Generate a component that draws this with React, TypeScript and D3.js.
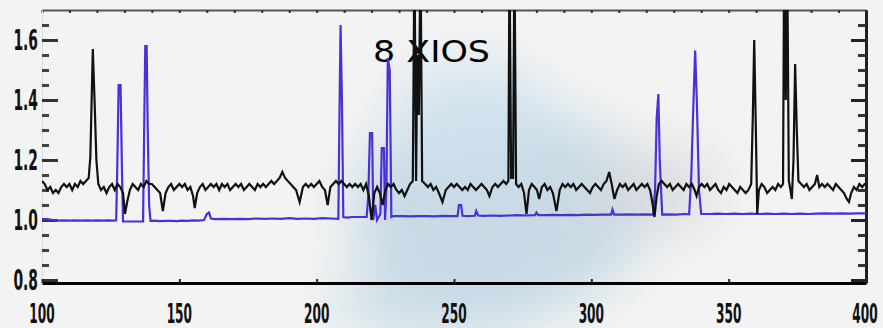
import React, { useRef, useEffect } from 'react';
import * as d3 from 'd3';

// x ticks along the bottom and y ticks on the left
const xTicks = [100, 150, 200, 250, 300, 350, 400];
const yTicks = [0.8, 1.0, 1.2, 1.4, 1.6];
const yTickLabels = ['0.8', '1.0', '1.2', '1.4', '1.6'];
const chartTitle = '8 XIOS';

// black trace: [x, value]
const blackSeries: [number, number][] = [
    [100, 1.13], [101, 1.12], [102, 1.10], [103, 1.11], [104, 1.09], [105, 1.10], [106, 1.09], [107, 1.11],
    [108, 1.12], [109, 1.11], [110, 1.12], [111, 1.10], [112, 1.12], [113, 1.11], [114, 1.13], [115, 1.12],
    [116, 1.13], [117, 1.14], [117.6, 1.21], [118.5, 1.57], [119.2, 1.38], [119.8, 1.20], [120.5, 1.12],
    [121.5, 1.10], [122.5, 1.11], [123.5, 1.09], [124.5, 1.11], [125.5, 1.12], [126.5, 1.10], [127.5, 1.12],
    [128.5, 1.11], [129.5, 1.09], [130.2, 1.02], [131, 1.06], [132, 1.10], [133, 1.12], [134, 1.11],
    [135, 1.10], [136, 1.12], [137, 1.11], [138, 1.13], [139, 1.12], [140, 1.12], [141, 1.11], [142, 1.10],
    [143, 1.09], [144, 1.03], [145, 1.09], [146, 1.11], [147, 1.12], [148, 1.10], [149, 1.11], [150, 1.12],
    [151, 1.11], [152, 1.12], [153, 1.10], [154, 1.11], [155, 1.08], [155.6, 1.04], [156.5, 1.09],
    [157.5, 1.11], [158.5, 1.12], [159.5, 1.10], [160.5, 1.11], [161.5, 1.12], [162.5, 1.11], [163.5, 1.12],
    [164.5, 1.10], [165.5, 1.12], [166.5, 1.11], [167.5, 1.12], [168.5, 1.10], [169.5, 1.11], [170.5, 1.12],
    [171.5, 1.11], [172.5, 1.12], [173.5, 1.10], [174.5, 1.11], [175.5, 1.12], [176.5, 1.11], [177.5, 1.10],
    [178.5, 1.12], [179.5, 1.11], [180.5, 1.12], [181.5, 1.11], [182.5, 1.12], [183.5, 1.13], [184.5, 1.12],
    [185.5, 1.13], [186.5, 1.14], [187.5, 1.16], [188.5, 1.14], [189.5, 1.13], [190.5, 1.12], [191.5, 1.11],
    [192.5, 1.10], [193.8, 1.06], [195, 1.11], [196, 1.12], [197, 1.11], [198, 1.12], [199, 1.11],
    [200, 1.12], [201, 1.13], [202, 1.11], [203, 1.10], [204, 1.05], [205, 1.11], [206, 1.12], [207, 1.13],
    [208, 1.12], [209, 1.13], [210, 1.12], [211, 1.11], [212, 1.12], [213, 1.11], [214, 1.12], [215, 1.11],
    [216, 1.12], [217, 1.10], [218, 1.12], [219, 1.08], [220, 1.00], [221, 1.09], [222, 1.11], [223, 1.09],
    [224, 1.05], [225, 1.10], [226, 1.12], [227, 1.11], [228, 1.12], [229, 1.10], [230, 1.09], [231, 1.10],
    [232, 1.08], [233, 1.10], [234, 1.12], [235, 1.13], [235.6, 1.9], [236.2, 1.13], [236.6, 1.55],
    [237.2, 1.35], [237.8, 1.9], [238.4, 1.13], [239.5, 1.12], [240.5, 1.11], [241.5, 1.12], [242.5, 1.10],
    [243.5, 1.11], [244.5, 1.09], [245.8, 1.06], [247, 1.10], [248, 1.11], [249, 1.12], [250, 1.11],
    [251, 1.12], [252, 1.11], [253, 1.10], [254, 1.11], [255, 1.10], [256, 1.12], [257, 1.11], [258, 1.10],
    [259, 1.11], [260, 1.12], [261, 1.11], [262, 1.10], [262.9, 1.08], [264, 1.11], [265, 1.12], [266, 1.11],
    [267, 1.12], [268, 1.13], [269, 1.12], [269.8, 1.13], [270.2, 1.9], [270.8, 1.14], [271.5, 1.14],
    [272, 1.9], [272.6, 1.12], [273.5, 1.11], [274.5, 1.12], [275.5, 1.09], [276.4, 1.02], [277.3, 1.10],
    [278.3, 1.12], [279.3, 1.11], [280.2, 1.10], [281, 1.07], [282, 1.11], [283, 1.12], [284, 1.10],
    [285, 1.11], [286, 1.09], [287.3, 1.03], [288.5, 1.10], [289.5, 1.12], [290.5, 1.11], [291.5, 1.12],
    [292.5, 1.11], [293.5, 1.12], [294.5, 1.10], [295.5, 1.11], [296.5, 1.12], [297.5, 1.11], [298.5, 1.10],
    [299.5, 1.09], [300.5, 1.11], [301.5, 1.12], [302.5, 1.11], [303.5, 1.10], [304.5, 1.12], [305.5, 1.13],
    [306.5, 1.16], [307.4, 1.12], [308.4, 1.07], [309.4, 1.10], [310.4, 1.12], [311.4, 1.11], [312.4, 1.12],
    [313.4, 1.10], [314.4, 1.11], [315.4, 1.12], [316.4, 1.10], [317.4, 1.11], [318.4, 1.12], [319.4, 1.11],
    [320.4, 1.12], [321.4, 1.10], [322.2, 1.06], [323, 1.01], [323.8, 1.08], [324.6, 1.12], [325.6, 1.13],
    [326.6, 1.12], [327.6, 1.11], [328.6, 1.12], [329.6, 1.10], [330.6, 1.11], [331.6, 1.12], [332.6, 1.11],
    [333.6, 1.10], [334.6, 1.12], [335.6, 1.11], [336.6, 1.12], [337.6, 1.10], [338.3, 1.08], [339.2, 1.11],
    [340.2, 1.12], [341.2, 1.11], [342.2, 1.12], [343.2, 1.10], [344.2, 1.11], [345.2, 1.12], [346.2, 1.10],
    [347.2, 1.09], [348.2, 1.11], [349.2, 1.10], [350.2, 1.12], [351.2, 1.11], [352.2, 1.10], [353.2, 1.09],
    [354.2, 1.11], [355.2, 1.10], [356.2, 1.09], [357.2, 1.10], [358.2, 1.12], [358.8, 1.35], [359.3, 1.60],
    [359.9, 1.30], [360.4, 1.02], [361, 1.10], [362, 1.12], [363, 1.11], [364, 1.09], [365, 1.10],
    [366, 1.11], [367, 1.10], [368, 1.12], [369, 1.11], [369.8, 1.12], [370.2, 1.9], [370.8, 1.4],
    [371.3, 1.9], [371.9, 1.13], [372.5, 1.10], [373, 1.07], [373.6, 1.2], [374.2, 1.52], [374.8, 1.3],
    [375.4, 1.13], [376.4, 1.12], [377.4, 1.11], [378.4, 1.12], [379.4, 1.10], [380.4, 1.11], [381.4, 1.12],
    [382.2, 1.15], [383, 1.11], [384, 1.12], [385, 1.11], [386, 1.12], [387, 1.11], [388, 1.10], [389, 1.12],
    [390, 1.11], [391, 1.10], [392, 1.09], [393, 1.07], [393.8, 1.06], [394.6, 1.09], [395.6, 1.11],
    [396.6, 1.10], [397.6, 1.12], [398.6, 1.11], [399.5, 1.12], [400, 1.12],
];

// blue trace: [x, value]
const blueSeries: [number, number][] = [
    [100, 1.003], [102, 1.003], [104, 1.0], [106, 0.998], [108, 0.999], [110, 0.998], [112, 0.999],
    [114, 0.998], [116, 0.999], [118, 0.998], [120, 0.999], [122, 0.998], [124, 0.999], [126, 0.998],
    [127, 0.999], [127.4, 1.17], [127.9, 1.45], [128.6, 1.45], [129.1, 1.17], [129.5, 0.995], [131, 0.995],
    [133, 0.995], [135, 0.995], [136.8, 0.995], [137.2, 1.3], [137.6, 1.58], [138.1, 1.58], [138.5, 1.30],
    [139, 1.05], [139.5, 0.997], [141, 0.998], [143, 0.996], [145, 0.997], [147, 0.997], [149, 0.996],
    [151, 0.998], [153, 0.997], [155, 0.999], [157, 0.998], [159, 1.0], [160, 1.02], [160.8, 1.025],
    [161.5, 1.005], [163, 1.003], [166, 1.004], [169, 1.003], [172, 1.004], [175, 1.003], [178, 1.005],
    [181, 1.004], [184, 1.005], [187, 1.004], [190, 1.006], [193, 1.004], [196, 1.005], [199, 1.004],
    [202, 1.006], [205, 1.005], [207.9, 1.004], [208.3, 1.35], [208.7, 1.65], [209.2, 1.40], [209.7, 1.01],
    [211, 1.008], [213, 1.01], [215, 1.01], [217, 1.01], [218.2, 1.01], [218.8, 1.08], [219.4, 1.29],
    [220.2, 1.29], [220.6, 1.0], [221.3, 1.05], [222, 1.0], [223.2, 1.02], [223.7, 1.24], [224.5, 1.24],
    [224.9, 1.0], [225.4, 1.10], [225.9, 1.54], [226.6, 1.50], [227.2, 1.01], [228, 1.013], [231, 1.013],
    [234, 1.012], [237, 1.013], [240, 1.013], [243, 1.012], [246, 1.014], [249, 1.013], [251.3, 1.013],
    [251.8, 1.05], [252.6, 1.05], [253.1, 1.014], [255, 1.013], [257.6, 1.014], [258.1, 1.03],
    [258.8, 1.015], [261, 1.014], [264, 1.015], [267, 1.014], [270, 1.015], [273, 1.016], [276, 1.015],
    [279.5, 1.016], [280, 1.025], [280.7, 1.016], [283, 1.016], [286, 1.017], [289, 1.016], [292, 1.017],
    [295, 1.016], [298, 1.018], [301, 1.017], [304, 1.018], [307.2, 1.018], [307.7, 1.035], [308.3, 1.018],
    [311, 1.018], [314, 1.019], [317, 1.018], [320, 1.019], [322.5, 1.018], [323.2, 1.1], [323.8, 1.34],
    [324.4, 1.42], [324.9, 1.2], [325.8, 1.018], [328, 1.019], [331, 1.018], [334, 1.02], [335.6, 1.019],
    [336.4, 1.15], [337.0, 1.34], [337.8, 1.565], [338.4, 1.40], [339.2, 1.1], [340, 1.02], [343, 1.02],
    [346, 1.021], [349, 1.02], [352, 1.021], [355, 1.02], [358, 1.021], [361, 1.02], [364, 1.021],
    [367, 1.02], [370, 1.021], [373, 1.02], [376, 1.021], [379, 1.02], [382, 1.021], [385, 1.022],
    [388, 1.021], [391, 1.022], [394, 1.021], [397, 1.022], [400, 1.022],
];

const W = 883;
const H = 328;

const App: React.FC = () => {
    const svgRef = useRef<SVGSVGElement | null>(null);

    useEffect(() => {
        if (!svgRef.current) return;
        const svg = d3.select(svgRef.current);
        svg.selectAll('*').remove();

        const left = 42, right = 866, top = 10, bottom = 283;

        const x = d3.scaleLinear().domain([100, 400]).range([left, right]);
        const y = d3.scaleLinear().domain([0.79, 1.7]).range([bottom, top]);

        const defs = svg.append('defs');
        defs.append('clipPath').attr('id', 'plot-clip')
            .append('rect')
            .attr('x', left).attr('y', top)
            .attr('width', right - left).attr('height', bottom - top);
        defs.append('filter').attr('id', 'blur')
            .attr('x', '-50%').attr('y', '-50%').attr('width', '200%').attr('height', '200%')
            .append('feGaussianBlur').attr('stdDeviation', 26);

        svg.append('rect').attr('width', W).attr('height', H).attr('fill', '#f3f3f3');

        // faint watermark behind the plot
        const wm = svg.append('g').attr('filter', 'url(#blur)');
        wm.append('ellipse').attr('cx', 500).attr('cy', 210).attr('rx', 150).attr('ry', 105)
            .attr('fill', '#bfd6e3').attr('opacity', 0.85);
        wm.append('ellipse').attr('cx', 470).attr('cy', 115).attr('rx', 80).attr('ry', 55)
            .attr('fill', '#d0e3ee').attr('opacity', 0.85);
        wm.append('ellipse').attr('cx', 650).attr('cy', 190).attr('rx', 70).attr('ry', 45)
            .attr('fill', '#d6dadd').attr('opacity', 0.8);
        wm.append('ellipse').attr('cx', 440).attr('cy', 300).attr('rx', 110).attr('ry', 40)
            .attr('fill', '#c6dbe6').attr('opacity', 0.8);

        // title
        svg.append('text')
            .attr('x', 373).attr('y', 62)
            .attr('textLength', 117).attr('lengthAdjust', 'spacingAndGlyphs')
            .style('font-family', '"DejaVu Sans", sans-serif')
            .style('font-size', '31px')
            .attr('fill', '#000')
            .text(chartTitle);

        // top axis
        const topAxis = svg.append('g').attr('transform', `translate(0,${top})`)
            .call(d3.axisBottom(x).tickValues(d3.range(100, 401, 10)).tickSize(3).tickSizeOuter(0).tickFormat(() => ''));
        topAxis.select('.domain').attr('stroke', '#555').attr('stroke-width', 2);
        topAxis.selectAll('.tick line').attr('stroke', '#333').attr('stroke-width', 2);

        // left ticks (no spine)
        const minorY = d3.range(16, 34).map(i => i * 0.05);
        const leftAxis = svg.append('g').attr('transform', `translate(${left},0)`)
            .call(d3.axisRight(y).tickValues(minorY).tickSize(7).tickSizeOuter(0).tickFormat(() => ''));
        leftAxis.select('.domain').attr('stroke', '#ddd').attr('stroke-width', 1);
        leftAxis.selectAll('.tick line').attr('stroke', '#444').attr('stroke-width', 3);
        const leftMajor = svg.append('g').attr('transform', `translate(${left},0)`)
            .call(d3.axisRight(y).tickValues(yTicks).tickSize(16).tickSizeOuter(0).tickFormat(() => ''));
        leftMajor.select('.domain').remove();
        leftMajor.selectAll('.tick line').attr('stroke', '#333').attr('stroke-width', 3);

        // right axis
        const rightAxis = svg.append('g').attr('transform', `translate(${right},0)`)
            .call(d3.axisLeft(y).tickValues(minorY).tickSize(8).tickSizeOuter(0).tickFormat(() => ''));
        rightAxis.select('.domain').attr('stroke', '#222').attr('stroke-width', 3);
        rightAxis.selectAll('.tick line').attr('stroke', '#333').attr('stroke-width', 3);
        const rightMajor = svg.append('g').attr('transform', `translate(${right},0)`)
            .call(d3.axisLeft(y).tickValues(yTicks).tickSize(15).tickSizeOuter(0).tickFormat(() => ''));
        rightMajor.select('.domain').remove();
        rightMajor.selectAll('.tick line').attr('stroke', '#222').attr('stroke-width', 3);

        // y labels
        svg.append('g').selectAll('text')
            .data(yTicks)
            .enter()
            .append('text')
            .attr('transform', d => `translate(38,${y(d) + 10}) scale(0.55,1)`)
            .attr('text-anchor', 'end')
            .style('font-family', '"DejaVu Sans Condensed", "DejaVu Sans", sans-serif')
            .style('font-weight', 'bold')
            .style('font-size', '28px')
            .attr('fill', '#111')
            .text((d, i) => yTickLabels[i]);

        // series
        const line = d3.line<[number, number]>().x(d => x(d[0])).y(d => y(d[1]));
        const plot = svg.append('g').attr('clip-path', 'url(#plot-clip)');
        plot.append('path').datum(blueSeries)
            .attr('d', line).attr('fill', 'none')
            .attr('stroke', '#4a30d6').attr('stroke-width', 2.2)
            .attr('stroke-linejoin', 'miter');
        plot.append('path').datum(blackSeries)
            .attr('d', line).attr('fill', 'none')
            .attr('stroke', '#111').attr('stroke-width', 2.2)
            .attr('stroke-linejoin', 'miter');

        // bottom axis
        const bottomAxis = svg.append('g').attr('transform', `translate(0,${bottom})`)
            .call(d3.axisTop(x).tickValues(xTicks).tickSize(4).tickSizeOuter(0).tickFormat(() => ''));
        bottomAxis.select('.domain').attr('stroke', '#000').attr('stroke-width', 3);
        bottomAxis.selectAll('.tick line').attr('stroke', '#222').attr('stroke-width', 2);

        // condensed x labels: squeeze horizontally with a transform
        const lastTick = xTicks[xTicks.length - 1];
        svg.append('g').selectAll('text')
            .data(xTicks)
            .enter()
            .append('text')
            .attr('transform', d => `translate(${d === lastTick ? x(d) - 1 : x(d)},323) scale(0.5,1)`)
            .attr('text-anchor', 'middle')
            .style('font-family', '"DejaVu Sans Condensed", "DejaVu Sans", sans-serif')
            .style('font-weight', 'bold')
            .style('font-size', '27px')
            .attr('fill', '#111')
            .text(d => String(d));
    }, []);

    return (
        <svg
            ref={svgRef}
            width={W}
            height={H}
            style={{ position: 'absolute', left: 0, top: 0, display: 'block' }}
        />
    );
};

export default App;
